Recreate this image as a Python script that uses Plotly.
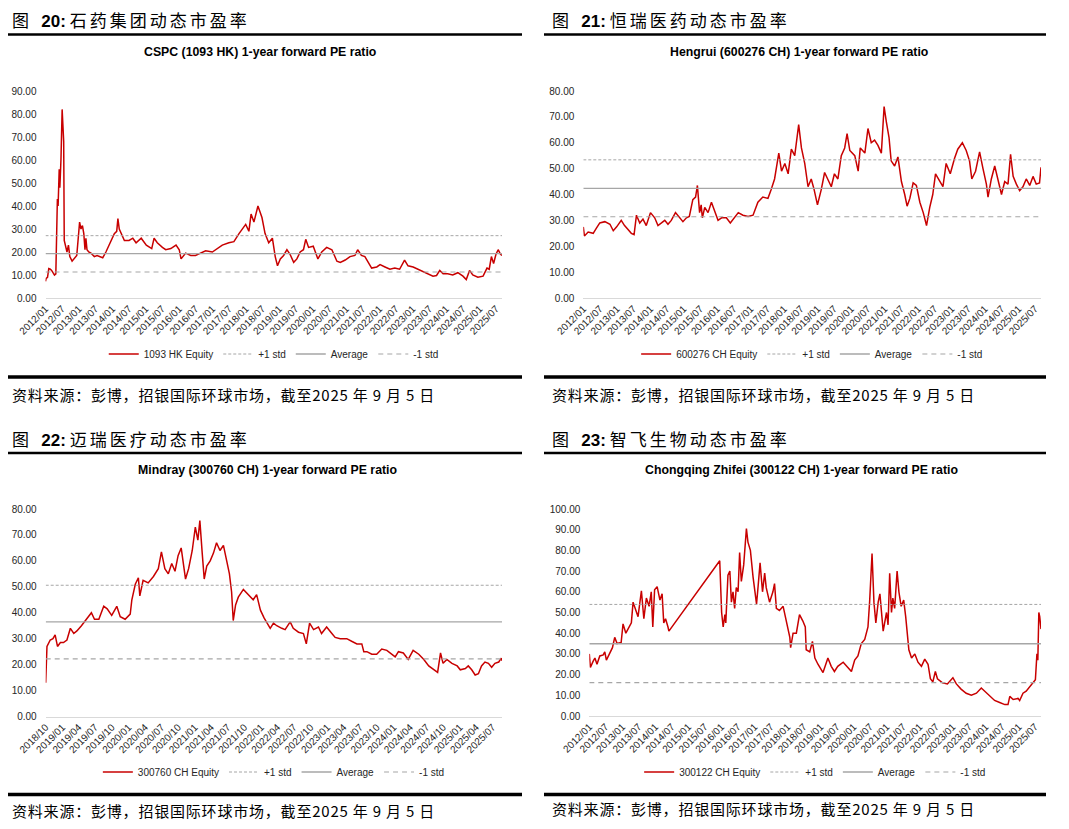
import plotly.graph_objects as go

# The page body has an 8px margin; the figure is sized to fit inside it and
# every reference pixel position is shifted by that offset.
OFF = 8
W, H = 1069 - 2 * OFF, 829 - 2 * OFF

# ---------------- data ----------------
cspc_dates = ["2012-01-03","2012-01-10","2012-01-25","2012-02-08","2012-02-25","2012-03-10","2012-03-25","2012-04-10","2012-04-25",
"2012-05-05","2012-05-12","2012-05-20","2012-06-01","2012-06-08","2012-06-20","2012-07-03","2012-07-10","2012-07-20","2012-07-26",
"2012-08-10","2012-08-25","2012-09-10","2012-09-25","2012-10-20","2012-11-10","2012-12-10","2013-01-10","2013-01-25","2013-02-10",
"2013-02-25","2013-03-10","2013-03-20","2013-04-01","2013-04-20","2013-05-15","2013-06-20","2013-07-20","2013-08-15","2013-09-20",
"2013-10-25","2013-12-20","2014-01-25","2014-02-20","2014-03-05","2014-03-20","2014-04-10","2014-05-15","2014-07-05","2014-08-15",
"2014-09-20","2014-10-25","2014-11-15","2015-01-10","2015-02-20","2015-03-10","2015-04-05","2015-05-10","2015-07-05","2015-08-10",
"2015-10-05","2015-12-01","2016-01-05","2016-01-25","2016-03-15","2016-05-10","2016-07-01","2016-08-25","2016-10-20","2017-01-01",
"2017-02-25","2017-04-20","2017-07-01","2017-08-25","2017-10-20","2017-11-25","2018-01-01","2018-02-05","2018-03-01","2018-04-01",
"2018-05-15","2018-06-28","2018-07-20","2018-08-01","2018-09-10","2018-10-20","2018-11-20","2018-12-15","2019-01-15","2019-02-20",
"2019-03-28","2019-05-01","2019-06-10","2019-07-15","2019-08-20","2019-09-25","2019-10-20","2019-11-20","2020-01-10","2020-03-01",
"2020-04-12","2020-06-05","2020-08-01","2020-09-25","2020-11-01","2020-12-25","2021-02-15","2021-04-10","2021-05-10","2021-06-20",
"2021-07-28","2021-09-05","2021-10-10","2021-12-05","2022-01-10","2022-03-05","2022-04-28","2022-06-20","2022-08-12","2022-10-05",
"2022-11-12","2023-01-07","2023-03-01","2023-04-25","2023-06-20","2023-08-12","2023-09-20","2023-10-25","2023-12-01","2024-01-20",
"2024-03-15","2024-05-10","2024-07-05","2024-08-10","2024-09-15","2024-10-20","2024-12-15","2025-02-10","2025-03-25","2025-04-18",
"2025-05-12","2025-06-05","2025-07-01","2025-07-25","2025-08-20","2025-09-05"]
cspc_pe = [7.2,8.5,9,12.8,12.5,12,11,10,10.5,
25,43,40,56,48,60,82,75,68,25,
22,20,23,18,16,17,18.5,33,30,31.5,
28,21,26,21,20,19.5,18,18.5,18,17.5,
20,25,28,29,34.5,30,28,25,25,26,
24,25,26,23,22,21.5,26,24,22,21,
21.5,23,21,17,19.5,18.5,18.5,19.5,20.5,20,
21.5,23,24,24.5,28,30,32,29,36.5,33,
40,35,31,28,24,26,18,14,17,18.5,
21,19,15.5,17,20,21,25.5,22,22.5,17,
20,22,21,16,15.5,16.5,18,18.5,21,18.5,
18,15,13,13.5,14.5,13.5,12.5,13,12.5,16.5,
14,13.5,12.5,11.5,10.5,9.5,9.8,12,10.5,10.5,
10,11,9.5,8,12,10,9,9.5,13,12.5,
18,15,19,21,19,18.5]

hr_dates = ["2012-01-03","2012-01-15","2012-02-25","2012-04-20","2012-05-25","2012-07-01","2012-08-25","2012-10-20","2012-11-25",
"2013-01-01","2013-02-20","2013-03-28","2013-05-05","2013-06-10","2013-07-10","2013-08-05","2013-09-10","2013-10-15","2013-11-20",
"2014-01-05","2014-02-20","2014-03-28","2014-05-05","2014-06-10","2014-07-15","2014-08-20","2014-10-05","2014-11-20","2014-12-25",
"2015-02-01","2015-03-05","2015-04-12","2015-05-12","2015-06-01","2015-06-25","2015-07-12","2015-07-25","2015-08-20","2015-09-25",
"2015-11-01","2015-12-05","2016-01-12","2016-02-20","2016-04-12","2016-05-25","2016-07-12","2016-08-20","2016-10-10","2016-12-05",
"2017-01-28","2017-03-22","2017-05-15","2017-07-10","2017-08-15","2017-09-20","2017-11-05","2017-12-05","2018-01-10","2018-02-15",
"2018-03-22","2018-04-28","2018-06-10","2018-07-10","2018-08-15","2018-09-20","2018-10-25","2018-11-25","2019-01-01","2019-02-12",
"2019-03-20","2019-04-25","2019-06-01","2019-07-05","2019-08-12","2019-09-18","2019-10-25","2019-11-20","2019-12-20","2020-02-12",
"2020-03-20","2020-04-12","2020-06-01","2020-07-05","2020-08-10","2020-09-15","2020-10-22","2020-11-28","2020-12-28","2021-01-22",
"2021-02-20","2021-03-15","2021-04-22","2021-05-28","2021-07-05","2021-08-10","2021-09-05","2021-10-05","2021-11-10","2021-12-15",
"2022-01-22","2022-02-28","2022-04-05","2022-05-10","2022-06-12","2022-07-12","2022-08-25","2022-10-01","2022-11-05","2022-12-20",
"2023-02-05","2023-03-12","2023-05-01","2023-06-12","2023-07-18","2023-08-12","2023-09-22","2023-11-05","2023-12-12","2024-01-18",
"2024-02-05","2024-03-12","2024-04-18","2024-05-25","2024-07-01","2024-08-05","2024-09-10","2024-10-08","2024-11-05","2024-12-10",
"2025-01-15","2025-02-20","2025-03-28","2025-05-05","2025-06-10","2025-07-15","2025-08-20","2025-09-05"]
hr_pe = [27.5,24,25.5,25,27,29,29.5,28.5,26,
27.5,30,28,26.5,25,24.5,32,29,30.5,28,
33,31,28,29,30,28.5,30,33,31,29.5,
31,31.5,38,39,43.5,33,36,31,35,33,
37,34,30,31,31,29,31,33,32,31.5,
32,37,39,38.5,42,46,56,49,52,48,
57.5,55,67,58,52,43,46,42,36,42,
48.5,46,43,48,46,55,58,63.5,57,55,
49,58,56,65.5,60,61,59,56,74,68,
62,53,51,54.5,45,40,35.5,38.5,44.5,43.5,
37,33,28,35,40,48,45,43,52,48,
54,57.5,60,57,53,46,49,56.5,50,44,
39,46,51,46,40,45,44,55.5,47,44,
41.5,43,46,43.5,47,44,44.5,50.5]

mr_dates = ["2018-10-16","2018-10-18","2018-10-23","2018-11-10","2018-11-25","2018-12-07","2018-12-20","2019-01-05","2019-01-22",
"2019-02-10","2019-03-01","2019-03-20","2019-04-06","2019-05-01","2019-05-28","2019-06-25","2019-07-12","2019-08-05","2019-09-01",
"2019-09-20","2019-10-15","2019-11-12","2019-12-01","2019-12-28","2020-01-25","2020-02-03","2020-02-22","2020-03-10","2020-03-18",
"2020-04-05","2020-05-03","2020-06-01","2020-06-28","2020-07-15","2020-08-03","2020-08-22","2020-09-10","2020-09-28","2020-10-15",
"2020-11-01","2020-11-25","2020-12-12","2021-01-01","2021-01-18","2021-02-01","2021-02-12","2021-02-25","2021-03-08","2021-03-22",
"2021-04-10","2021-04-28","2021-05-15","2021-06-03","2021-06-22","2021-07-10","2021-07-25","2021-08-06","2021-08-15","2021-08-28",
"2021-09-12","2021-10-10","2021-11-06","2021-12-03","2021-12-22","2022-01-12","2022-02-01","2022-02-18","2022-03-07","2022-03-25",
"2022-04-12","2022-05-10","2022-05-28","2022-06-25","2022-07-12","2022-08-10","2022-09-06","2022-09-22","2022-10-10","2022-11-01",
"2022-11-28","2022-12-15","2023-01-12","2023-02-10","2023-02-28","2023-03-28","2023-05-03","2023-05-30","2023-06-28","2023-07-25",
"2023-08-05","2023-08-22","2023-09-18","2023-10-15","2023-11-12","2023-12-10","2024-01-06","2024-01-25","2024-02-12","2024-03-10",
"2024-04-06","2024-05-03","2024-06-03","2024-07-01","2024-07-28","2024-08-25","2024-09-15","2024-10-01","2024-10-15","2024-11-05",
"2024-12-03","2025-01-01","2025-01-18","2025-02-15","2025-03-03","2025-03-22","2025-04-10","2025-04-28","2025-05-15","2025-06-03",
"2025-06-22","2025-07-10","2025-07-28","2025-08-18","2025-09-01","2025-09-05"]
mr_pe = [13,22,27,29.5,30,31.5,27,28.5,28.5,
29.5,34,32,33,35,37.5,40,37.5,37.5,42.5,
41.5,39,42.5,38.5,37.5,39.5,45,51,53.5,46.5,
52.5,51.5,54,57,63.5,57,55,59,56,62,
65,53,57,64,73,68,75.5,63,53,58,
60,63,67,64,66,60,55,48,37,43,
46,49,47,45,47,41,38,36,34,36,
35,34,33.5,36.5,34,32.5,32,28,36,33.5,
34.5,32,34.5,32,30.5,30,30,29,28,28,
25,25,24,24,26,25.5,24,23,25,24.5,
22,25.5,24,22,19.5,18,17,24.5,20.5,22,
20.5,19.5,18,18.5,19.5,18,16,16.5,19.5,21,
20.5,19,20.5,21,22.5,21.5]

zf_dates = ["2012-01-03","2012-01-15","2012-02-15","2012-03-05","2012-03-28","2012-04-28","2012-06-05","2012-06-22","2012-07-10",
"2012-08-15","2012-09-15","2012-10-10","2012-11-05","2012-12-20","2013-01-10","2013-02-10","2013-03-05","2013-04-12","2013-05-01",
"2013-05-28","2013-06-25","2013-08-01","2013-08-28","2013-09-25","2013-10-25","2013-11-18","2013-12-05","2013-12-25","2014-01-22",
"2014-02-22","2014-03-18","2014-04-05","2014-04-25","2014-05-22","2014-06-01","2015-12-15","2016-01-05","2016-01-22","2016-02-10",
"2016-02-20","2016-03-15","2016-04-05","2016-04-22","2016-05-10","2016-05-28","2016-06-15","2016-07-05","2016-07-22","2016-08-10",
"2016-09-05","2016-10-05","2016-10-22","2016-11-18","2016-12-18","2017-01-05","2017-01-25","2017-02-12","2017-03-05","2017-04-01",
"2017-04-25","2017-05-12","2017-06-18","2017-07-25","2017-08-12","2017-09-01","2017-10-05","2017-11-15","2017-12-22","2018-01-28",
"2018-02-06","2018-03-05","2018-04-10","2018-05-15","2018-06-20","2018-07-18","2018-07-28","2018-09-05","2018-10-05","2018-11-01",
"2018-12-05","2019-01-30","2019-03-25","2019-05-01","2019-06-05","2019-07-12","2019-09-10","2019-11-05","2019-12-10","2020-01-15",
"2020-02-20","2020-03-28","2020-05-05","2020-06-10","2020-06-28","2020-07-25","2020-08-15","2020-09-05","2020-10-01","2020-10-20",
"2020-11-05","2020-11-25","2021-01-01","2021-01-18","2021-02-05","2021-02-25","2021-03-12","2021-04-01","2021-04-28","2021-05-18",
"2021-06-12","2021-07-10","2021-08-01","2021-08-15","2021-09-05","2021-10-05","2021-11-10","2021-12-15","2022-01-22","2022-02-28",
"2022-04-05","2022-05-01","2022-05-28","2022-06-25","2022-07-18","2022-09-12","2022-11-05","2023-01-05","2023-02-12","2023-04-05",
"2023-06-01","2023-07-28","2023-09-22","2023-11-15","2023-12-22","2024-02-15","2024-04-10","2024-06-05","2024-08-01","2024-09-05",
"2024-09-25","2024-11-01","2024-12-25","2025-01-12","2025-02-18","2025-03-25","2025-05-01","2025-06-08","2025-07-05","2025-07-22",
"2025-08-01","2025-08-12","2025-08-22","2025-09-05"]
zf_pe = [30,23.5,26.5,28,25,29,29.5,31,27,
30,33,38,35,35.5,44.5,40,42,45,55,
51,48,60.5,47,57,53,60,43,61,62.5,
56,59,45,47,43,41,75,50,43,49,
45,68,70,55,60,52,62,60,79,65,
73,90.5,84,80,67,60,54,63,74,60,
69,62,55,60,64,52,51,53,46,38,
33,40,40,49,46,43,32,31,36,28,
25,21,28,24,21.5,24,26,23,21.5,27,
29,35,37,43,55,78.5,55,45,55,59,
50,41,50,44,69,50,57,52,70,60,
53,56,48,40,32,28,30,26,24,27.5,
25,18,16.5,21.5,18,16,15.5,18.5,15.5,13,
11,10,11,13.5,12,10,7.5,6.5,5.5,5.5,
9.5,8,8.5,7.5,11,12,14,16,17.5,30,
27,50,48,42]

heading_prefix = "图"
heading_numbers = ["20:", "21:", "22:", "23:"]
heading_names = ["石药集团动态市盈率", "恒瑞医药动态市盈率", "迈瑞医疗动态市盈率", "智飞生物动态市盈率"]
subtitles = ["CSPC (1093 HK) 1-year forward PE ratio", "Hengrui (600276 CH) 1-year forward PE ratio",
             "Mindray (300760 CH) 1-year forward PE ratio", "Chongqing Zhifei (300122 CH) 1-year forward PE ratio"]
series_names = ["1093 HK Equity", "600276 CH Equity", "300760 CH Equity", "300122 CH Equity"]
std_plus = [27.1, 53.4, 50.6, 53.9]
average = [19.3, 42.4, 36.5, 34.9]
std_minus = [11.3, 31.4, 22.2, 16.1]
y_max = [90, 80, 80, 100]
x_start = ["2012-01-03", "2012-01-03", "2018-10-16", "2012-01-03"]
x_end = ["2025-09-05", "2025-09-05", "2025-09-05", "2025-09-05"]
tick_step = ["M6", "M6", "M3", "M6"]
source_text = "资料来源：彭博，招银国际环球市场，截至2025 年 9 月 5 日"

all_dates = [cspc_dates, hr_dates, mr_dates, zf_dates]
all_pe = [cspc_pe, hr_pe, mr_pe, zf_pe]

# ---------------- layout geometry (window pixels) ----------------
panels = [
    dict(x0=45.5, x1=502, ytop=91, ybot=298, hx=10, hy=19, rule_top=34.5, rule_bot=377, rx0=8, rx1=522,
         sub_x=260.5, sub_y=52, leg_y=354, src_y=394),
    dict(x0=583.3, x1=1041, ytop=91, ybot=298, hx=550, hy=19, rule_top=34.5, rule_bot=377, rx0=544, rx1=1046,
         sub_x=799, sub_y=52, leg_y=354, src_y=394),
    dict(x0=45.7, x1=502, ytop=509, ybot=716.5, hx=10, hy=438, rule_top=453, rule_bot=794.5, rx0=8, rx1=522,
         sub_x=267, sub_y=470, leg_y=772, src_y=810),
    dict(x0=589.3, x1=1041, ytop=509, ybot=716, hx=550, hy=438, rule_top=453, rule_bot=794.5, rx0=544, rx1=1046,
         sub_x=801, sub_y=470, leg_y=772, src_y=808),
]

def px(x):
    return (x - OFF) / W

def py(y):
    return 1 - (y - OFF) / H

RED = "#c80000"
GRAY = "#a6a6a6"
FONT = "Liberation Sans, Arial, sans-serif"
CJK = "Noto Sans CJK SC"

fig = go.Figure()
shapes = []
annotations = []
layout = {}

for i in range(4):
    p = panels[i]
    sfx = "" if i == 0 else str(i + 1)
    xa = "x" + sfx
    ya = "y" + sfx
    leg = "legend" + sfx
    fig.add_trace(go.Scatter(x=all_dates[i], y=all_pe[i], mode="lines", name=series_names[i],
                             line=dict(color=RED, width=1.5), xaxis=xa, yaxis=ya, legend=leg))
    xs = [x_start[i], x_end[i]]
    fig.add_trace(go.Scatter(x=xs, y=[std_plus[i]] * 2, mode="lines", name="+1 std",
                             line=dict(color=GRAY, width=1, dash="3px,2px"), xaxis=xa, yaxis=ya, legend=leg))
    fig.add_trace(go.Scatter(x=xs, y=[average[i]] * 2, mode="lines", name="Average",
                             line=dict(color=GRAY, width=1.3), xaxis=xa, yaxis=ya, legend=leg))
    fig.add_trace(go.Scatter(x=xs, y=[std_minus[i]] * 2, mode="lines", name="-1 std",
                             line=dict(color=GRAY, width=1.2, dash="5px,4px"), xaxis=xa, yaxis=ya, legend=leg))

    layout["xaxis" + sfx] = dict(
        type="date", domain=[px(p["x0"]), px(p["x1"])], anchor=ya, automargin=False,
        range=[x_start[i], x_end[i]], tick0=x_start[i], dtick=tick_step[i], tickformat="%Y/%m",
        tickangle=-45, tickfont=dict(family=FONT, size=10, color="#262626"),
        showgrid=False, zeroline=False, showline=True, linecolor="#d9d9d9", linewidth=1.2,
        ticks="", fixedrange=True)
    layout["yaxis" + sfx] = dict(
        domain=[py(p["ybot"]), py(p["ytop"])], anchor=xa, range=[0, y_max[i]], dtick=10, automargin=False,
        tickformat=".2f", tickfont=dict(family=FONT, size=10, color="#262626"),
        showgrid=False, zeroline=False, showline=False, ticks="", ticklabelstandoff=8, fixedrange=True)
    layout[leg] = dict(orientation="h", x=px((p["x0"] + p["x1"]) / 2), xanchor="center",
                       y=py(p["leg_y"]), yanchor="middle", font=dict(family=FONT, size=10, color="#262626"),
                       bgcolor="rgba(0,0,0,0)", itemclick=False, itemdoubleclick=False)

    # heading
    annotations.append(dict(
        x=px(p["hx"]), y=py(p["hy"]), xref="paper", yref="paper", xanchor="left", yanchor="middle",
        showarrow=False, font=dict(family=CJK, size=17, color="#000000"),
        text=heading_prefix + "\u2002 <span style='font-family:Liberation Sans'><b>" + heading_numbers[i]
             + "</b></span> <span style='letter-spacing:3px'>" + heading_names[i] + "</span>"))
    # subtitle
    annotations.append(dict(
        x=px(p["sub_x"]), y=py(p["sub_y"]), xref="paper", yref="paper", xanchor="center", yanchor="middle",
        showarrow=False, font=dict(family=FONT, size=12.3, color="#000000"), text="<b>" + subtitles[i] + "</b>"))
    # source
    annotations.append(dict(
        x=px(p["hx"]), y=py(p["src_y"]), xref="paper", yref="paper", xanchor="left", yanchor="middle",
        showarrow=False, font=dict(family=CJK, size=15, color="#000000"),
        text="<span style='letter-spacing:0.8px'>" + source_text + "</span>"))
    # rules
    shapes.append(dict(type="line", xref="paper", yref="paper", x0=px(p["rx0"]), x1=px(p["rx1"]),
                       y0=py(p["rule_top"]), y1=py(p["rule_top"]), line=dict(color="#000000", width=2.5)))
    shapes.append(dict(type="line", xref="paper", yref="paper", x0=px(p["rx0"]), x1=px(p["rx1"]),
                       y0=py(p["rule_bot"]), y1=py(p["rule_bot"]), line=dict(color="#000000", width=3.5)))

fig.update_layout(
    template="none",
    width=W, height=H, margin=dict(l=0, r=0, t=0, b=0, autoexpand=False),
    paper_bgcolor="white", plot_bgcolor="white",
    shapes=shapes, annotations=annotations, showlegend=True, **layout)

fig.write_html("out.html")
